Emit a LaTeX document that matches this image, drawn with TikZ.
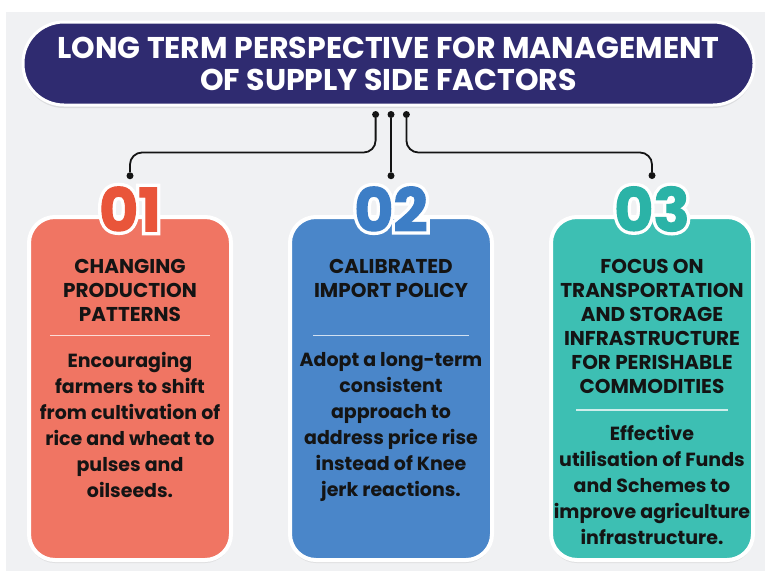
\documentclass[tikz,border=0pt]{standalone}
\usepackage{fontspec}
\setmainfont{Poppins}
\newfontfamily\numfont[FakeBold=1.8]{Poppins}
\newfontfamily\halofont[FakeBold=13]{Poppins}
\usetikzlibrary{positioning, calc, shadows}
\definecolor{navy}{HTML}{2F2B70}
\definecolor{salmon}{HTML}{F07563}
\definecolor{coral}{HTML}{E9553A}
\definecolor{steel}{HTML}{4A86C9}
\definecolor{azure}{HTML}{3D7EC6}
\definecolor{aqua}{HTML}{3DBFB3}
\definecolor{sea}{HTML}{2BB3A7}
\definecolor{paper}{HTML}{F0F1F3}
\definecolor{ink}{HTML}{141414}

\begin{document}
\begin{tikzpicture}[
  x=1pt, y=-1pt,
  banner/.style={fill=navy, draw=white, line width=3pt, rounded corners=41pt,
                 minimum width=731pt, minimum height=83pt, text=white, align=center,
                 font=\bfseries\fontsize{30}{32}\selectfont,
                 drop shadow={opacity=.18, shadow xshift=0pt, shadow yshift=-3pt}},
  card/.style={draw=white, line width=4pt, rounded corners=26pt,
               minimum width=202pt, minimum height=343pt,
               drop shadow={opacity=.15, shadow xshift=0pt, shadow yshift=-3pt}},
  head/.style={font=\bfseries\fontsize{20}{24}\selectfont, text=ink,
               align=center, inner sep=0pt},
  body/.style={font=\bfseries\fontsize{19}{26}\selectfont, text=ink,
               align=center, inner sep=0pt},
  num/.style={font=\numfont\bfseries\fontsize{60}{60}\selectfont, inner sep=0pt},
  halo/.style={font=\halofont\bfseries\fontsize{60}{60}\selectfont, inner sep=0pt,
               text=white},
  rule/.style={white, line width=1.5pt, opacity=.75},
  wire/.style={line width=1.8pt, rounded corners=12pt, color=ink},
  dot/.style={circle, fill=ink, inner sep=0pt, minimum size=7pt}
]
  % Canvas
  \fill[white] (0,0) rectangle (765,571);
  \fill[paper] (6,12) rectangle (765,571);
  \useasboundingbox (0,0) rectangle (765,571);

  % Title banner
  \node[banner] (title) at (388.5,63.5)
    {LONG TERM PERSPECTIVE FOR MANAGEMENT\\OF SUPPLY SIDE FACTORS};

  % Cards
  \node[card, fill=salmon] (card1) at (130,388.5) {};
  \node[card, fill=steel, right=55pt of card1] (card2) {};
  \node[card, fill=aqua, right=55pt of card2] (card3) {};

  % Numbers with white outline
  \node[halo] (w1) at ([yshift=6pt]card1.north) {01};
  \node[halo] (w2) at ([yshift=6pt]card2.north) {02};
  \node[halo] (w3) at ([yshift=6pt]card3.north) {03};
  \node[num, text=coral] (n1) at (w1) {01};
  \node[num, text=azure] (n2) at (w2) {02};
  \node[num, text=sea] (n3) at (w3) {03};

  % Connectors
  \coordinate (hub) at ([yshift=-8pt]title.south -| n2);
  \node[dot] (d2) at (hub) {};
  \node[dot, left=8pt of d2] (d1) {};
  \node[dot, right=8pt of d2] (d3) {};
  \node[dot, above=7pt of n1] (e1) {};
  \node[dot, above=7pt of n2] (e2) {};
  \node[dot, above=7pt of n3] (e3) {};
  \draw[wire] (d1) -- ++(0,38) -| (e1);
  \draw[wire] (d2) -- (e2);
  \draw[wire] (d3) -- ++(0,38) -| (e3);

  % Card 1
  \node[head, below=44pt of card1.north] (h1) {CHANGING\\PRODUCTION\\PATTERNS};
  \coordinate (r1) at ($(h1.south)+(0,14)$);
  \draw[rule] ([xshift=-80pt]r1) -- ([xshift=80pt]r1);
  \node[body, below=16pt of r1] (b1)
    {Encouraging\\farmers to shift\\from cultivation of\\rice and wheat to\\pulses and\\oilseeds.};

  % Card 2
  \node[head, below=44pt of card2.north] (h2) {CALIBRATED\\IMPORT POLICY};
  \coordinate (r2) at (card2 |- r1);
  \draw[rule] ([xshift=-78pt]r2) -- ([xshift=78pt]r2);
  \node[body, below=16pt of r2] (b2)
    {Adopt a long-term\\consistent\\approach to\\address price rise\\instead of Knee\\jerk reactions.};

  % Card 3
  \node[head, below=44pt of card3.north] (h3)
    {FOCUS ON\\TRANSPORTATION\\AND STORAGE\\INFRASTRUCTURE\\FOR PERISHABLE\\COMMODITIES};
  \coordinate (r3) at ($(h3.south)+(0,16)$);
  \draw[rule] ([xshift=-76pt]r3) -- ([xshift=76pt]r3);
  \node[body, below=15pt of r3] (b3)
    {Effective\\utilisation of Funds\\and Schemes to\\improve agriculture\\infrastructure.};
\end{tikzpicture}
\end{document}
